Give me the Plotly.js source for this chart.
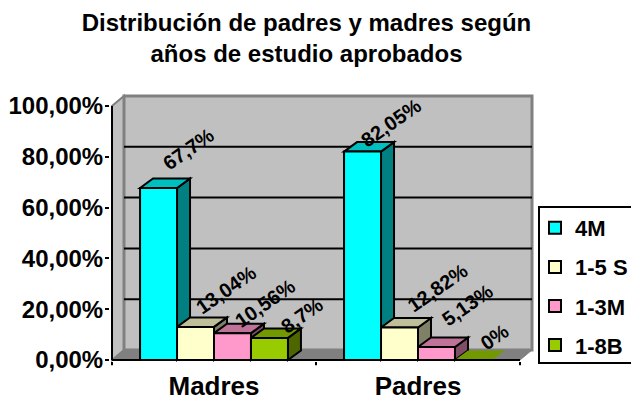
<!DOCTYPE html>
<html><head><meta charset="utf-8">
<script src="https://cdn.plot.ly/plotly-3.0.1.min.js"></script>
<style>html,body{margin:0;padding:0;background:#fff}#c{width:631px;height:401px}</style>
</head><body><div id="c"></div>
<script>
const categories = ['Madres', 'Padres'];
const seriesNames = ['4M', '1-5 S', '1-3M', '1-8B'];
const values4M = [67.7, 82.05];
const values15S = [13.04, 12.82];
const values13M = [10.56, 5.13];
const values18B = [8.7, 0];
const yTicks = [0, 20, 40, 60, 80, 100];
const yTickLabels = ['0,00%', '20,00%', '40,00%', '60,00%', '80,00%', '100,00%'];

const allValues = [values4M, values15S, values13M, values18B];
const frontColors = ['#00ffff', '#ffffcc', '#ff99cc', '#99cc00'];
const topColors = ['#00bfbf', '#bfbf99', '#bf7399', '#739900'];
const sideColors = ['#008080', '#808066', '#804d66', '#4d6600'];
// pixel offsets of the rotated value labels from the top of each bar
const labelDx = [[30, 28], [30, 38], [33, 31], [33, 21]];
const labelDy = [[39, 29], [37, 39], [30, 42], [23, 23]];

const pxX = 204, pxY = 2.54;
const wallDx = 12 / pxX, wallDy = 10 / pxY;
const barDx = 13 / pxX, barDy = 9.5 / pxY;
const groupW = 0.725, barW = groupW / 4;
const x0 = -0.5, x1 = 1.5, yTop = 100;

function poly(pts, fill, line, lw, extra) {
  return Object.assign({
    type: 'path', xref: 'x', yref: 'y', layer: 'below',
    path: 'M' + pts.map(p => p[0] + ',' + p[1]).join('L') + 'Z',
    fillcolor: fill, line: {color: line, width: lw}
  }, extra || {});
}
function seg(a, b, color, w) {
  return {type: 'line', xref: 'x', yref: 'y', layer: 'below',
    x0: a[0], y0: a[1], x1: b[0], y1: b[1], line: {color: color, width: w}};
}

const shapes = [];
shapes.push(poly([[x0, 0], [x0 + wallDx, wallDy], [x0 + wallDx, yTop + wallDy], [x0, yTop]], '#c0c0c0', '#808080', 2));
shapes.push(poly([[x0 + wallDx, wallDy], [x1 + wallDx, wallDy], [x1 + wallDx, yTop + wallDy], [x0 + wallDx, yTop + wallDy]], '#c0c0c0', '#808080', 3));
shapes.push(poly([[x0, 0], [x0 + wallDx, wallDy], [x1 + wallDx, wallDy], [x1, 0]], '#808080', '#808080', 1));
yTicks.slice(1, -1).forEach(v => shapes.push(seg([x0 + wallDx, v + wallDy], [x1 + wallDx, v + wallDy], '#000000', 2)));
allValues.forEach((vals, s) => {
  vals.forEach((v, c) => {
    const l = c - groupW / 2 + s * barW, r = l + barW;
    if (v > 0) shapes.push(poly([[r, 0], [r + barDx, barDy], [r + barDx, v + barDy], [r, v]], sideColors[s], '#000000', 2));
    shapes.push(poly([[l, v], [l + barDx, v + barDy], [r + barDx, v + barDy], [r, v]], topColors[s], v > 0 ? '#000000' : topColors[s], v > 0 ? 2 : 0));
  });
});
shapes.push({type: 'line', xref: 'x', yref: 'y', layer: 'above', x0: x0, x1: x0, y0: 0, y1: yTop, line: {color: '#000', width: 2}});
shapes.push({type: 'line', xref: 'x', yref: 'y', layer: 'above', x0: x0, x1: x1, y0: 0, y1: 0, line: {color: '#000', width: 2}});
[x0, 0.5, x1].forEach(x => shapes.push({type: 'line', xref: 'x', yref: 'paper', layer: 'above',
  x0: x, x1: x, y0: 0, y1: -0.012, line: {color: '#000', width: 2}}));
// legend frame (runs off the right edge as in the reference)
shapes.push({type: 'rect', xref: 'paper', yref: 'paper', layer: 'above',
  x0: (539 - 110) / 426, x1: (640 - 110) / 426, y0: 1 - (363 - 92) / 270, y1: 1 - (207 - 92) / 270,
  line: {color: '#000', width: 2}, fillcolor: 'rgba(0,0,0,0)'});

const traces = seriesNames.map((name, s) => ({
  type: 'bar', name: name, legendgroup: name,
  x: categories.map((_, i) => i), y: allValues[s],
  marker: {color: frontColors[s], line: {color: '#000', width: 2}},
  hoverinfo: 'skip'
}));

const annotations = [];
allValues.forEach((vals, s) => vals.forEach((v, c) => {
  annotations.push({
    xref: 'x', yref: 'y', x: c - groupW / 2 + (s + 0.5) * barW, y: v,
    xshift: labelDx[s][c], yshift: labelDy[s][c], showarrow: false,
    text: String(v).replace('.', ',') + '%', textangle: -35,
    xanchor: 'center', yanchor: 'middle',
    font: {family: '"Liberation Sans", Arial, sans-serif', size: 20, weight: 700, color: '#000'}
  });
}));

const layout = {
  width: 631, height: 401, paper_bgcolor: '#fff', plot_bgcolor: 'rgba(0,0,0,0)',
  margin: {l: 110, r: 95, t: 92, b: 39, pad: 0, autoexpand: false},
  font: {family: '"Liberation Sans", Arial, sans-serif', color: '#000'},
  title: {text: 'Distribución de padres y madres según<br>años de estudio aprobados',
    font: {size: 24, weight: 700, color: '#000'}, x: 306.5 / 631, xanchor: 'center', y: 0.923, yanchor: 'top'},
  barmode: 'group', bargap: 1 - groupW, bargroupgap: 0,
  xaxis: {range: [x0 - 2 / pxX, x0 + 424 / pxX], tickvals: [0, 1], ticktext: categories, ticks: '',
    showgrid: false, zeroline: false, showline: false, ticklabelstandoff: 6,
    tickfont: {size: 26, weight: 700, color: '#000'}},
  yaxis: {range: [-2 / pxY, 268 / pxY], tickvals: yTicks, ticktext: yTickLabels, ticks: 'outside', ticklen: 4, tickwidth: 2, tickcolor: '#000',
    showgrid: false, zeroline: false, showline: false, ticklabelstandoff: -3,
    tickfont: {size: 24, weight: 700, color: '#000'}},
  legend: {x: (535 - 110) / 426, y: 1 - (207 - 92) / 270, xanchor: 'left', yanchor: 'top', bgcolor: 'rgba(0,0,0,0)',
    borderwidth: 0, traceorder: 'grouped', tracegroupgap: 7.5,
    font: {size: 22, weight: 700, color: '#000'}},
  showlegend: true, shapes: shapes, annotations: annotations
};
Plotly.newPlot('c', traces, layout, {displayModeBar: false, staticPlot: true});
</script></body></html>
